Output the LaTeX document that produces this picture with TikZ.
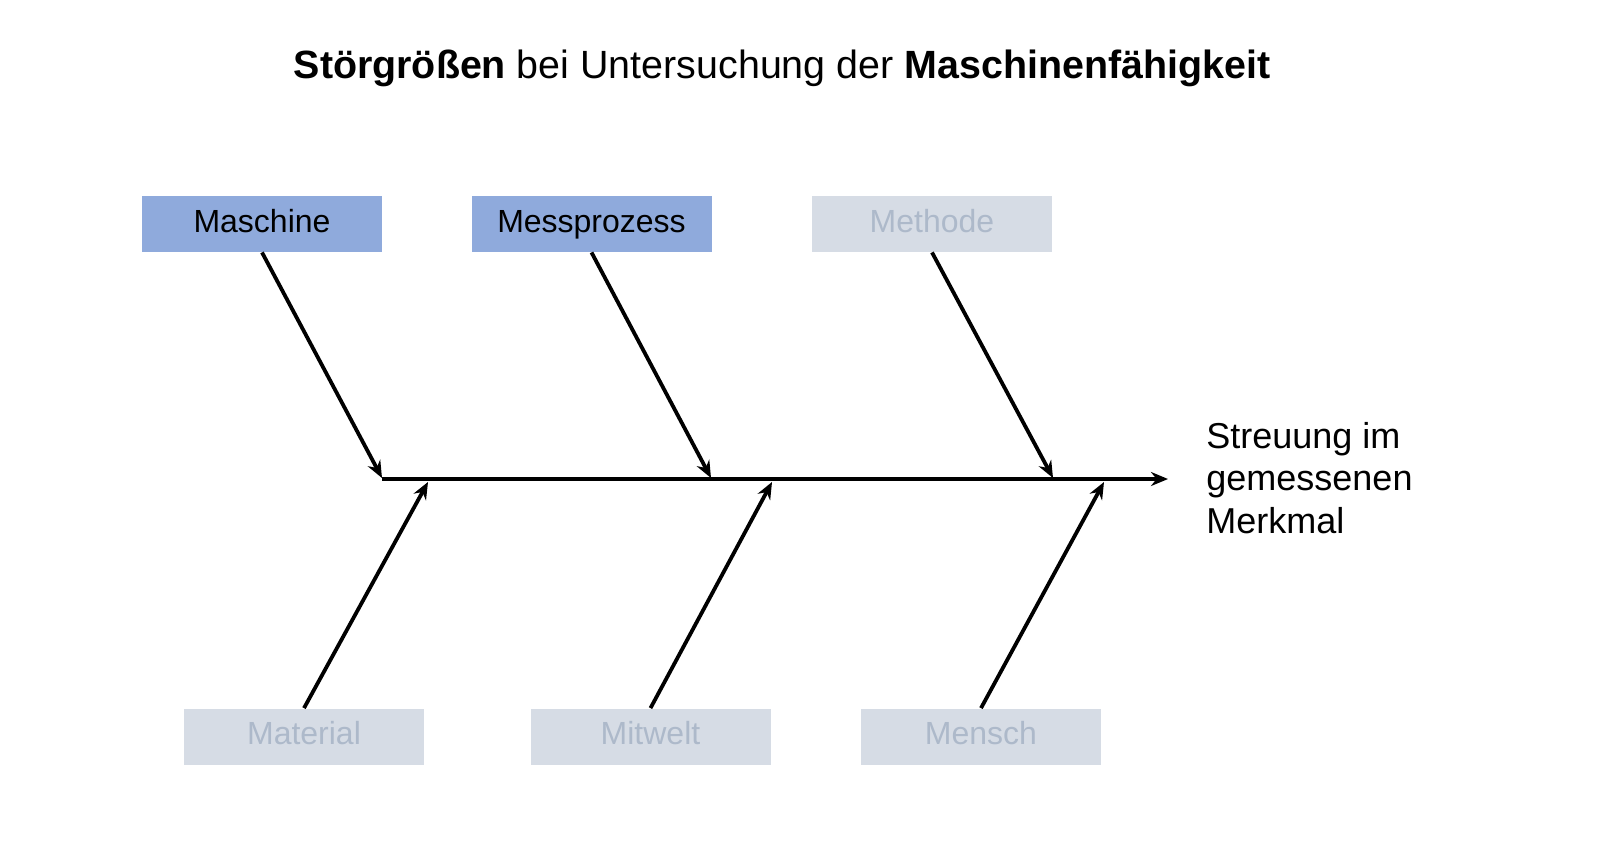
\documentclass[tikz,border=0pt]{standalone}
\usepackage{fontspec}
\setmainfont{Liberation Sans}
\usetikzlibrary{arrows.meta}
\definecolor{boxblue}{HTML}{8FAADC}
\definecolor{boxgrey}{HTML}{D6DCE5}
\definecolor{txtgrey}{HTML}{ADB9CA}
\begin{document}
\begin{tikzpicture}[x=0.5pt,y=-0.5pt,
  cause/.style={minimum width=120pt,minimum height=28pt,inner sep=0pt,text height=11.6pt,text depth=3.4pt,font=\fontsize{16}{18}\selectfont},
  active/.style={cause,fill=boxblue,text=black},
  inactive/.style={cause,fill=boxgrey,text=txtgrey},
  bone/.style={line width=1.9pt,-{Stealth[length=8.5pt,width=7pt]}}]
\useasboundingbox (0,0) rectangle (1600,863);
\node[font=\fontsize{19.7}{22}\selectfont] (title) at (782,68) {\textbf{Störgrößen} bei Untersuchung der \textbf{Maschinenfähigkeit}};
\node[active] (maschine) at (262,224) {Maschine};
\node[active] (mess) at (591.5,224) {Messprozess};
\node[inactive] (methode) at (932,224) {Methode};
\node[inactive] (material) at (304,736.5) {Material};
\node[inactive] (mitwelt) at (650.5,736.5) {Mitwelt};
\node[inactive] (mensch) at (981,736.5) {Mensch};
\coordinate (start) at (382,479);
\coordinate (end) at (1168,479);
\coordinate (a1) at (382,478);
\coordinate (a2) at (711,478);
\coordinate (a3) at (1053,478);
\coordinate (b1) at (428,482);
\coordinate (b2) at (772,482);
\coordinate (b3) at (1104,482);
\node[anchor=west,align=left,inner sep=0pt,font=\fontsize{18}{21.2}\selectfont] (effect) at (1206,478) {Streuung im\\gemessenen\\Merkmal};
\draw[bone] (start) -- (end);
\draw[bone] (maschine.south) -- (a1);
\draw[bone] (mess.south) -- (a2);
\draw[bone] (methode.south) -- (a3);
\draw[bone] (material.north) -- (b1);
\draw[bone] (mitwelt.north) -- (b2);
\draw[bone] (mensch.north) -- (b3);
\end{tikzpicture}
\end{document}
